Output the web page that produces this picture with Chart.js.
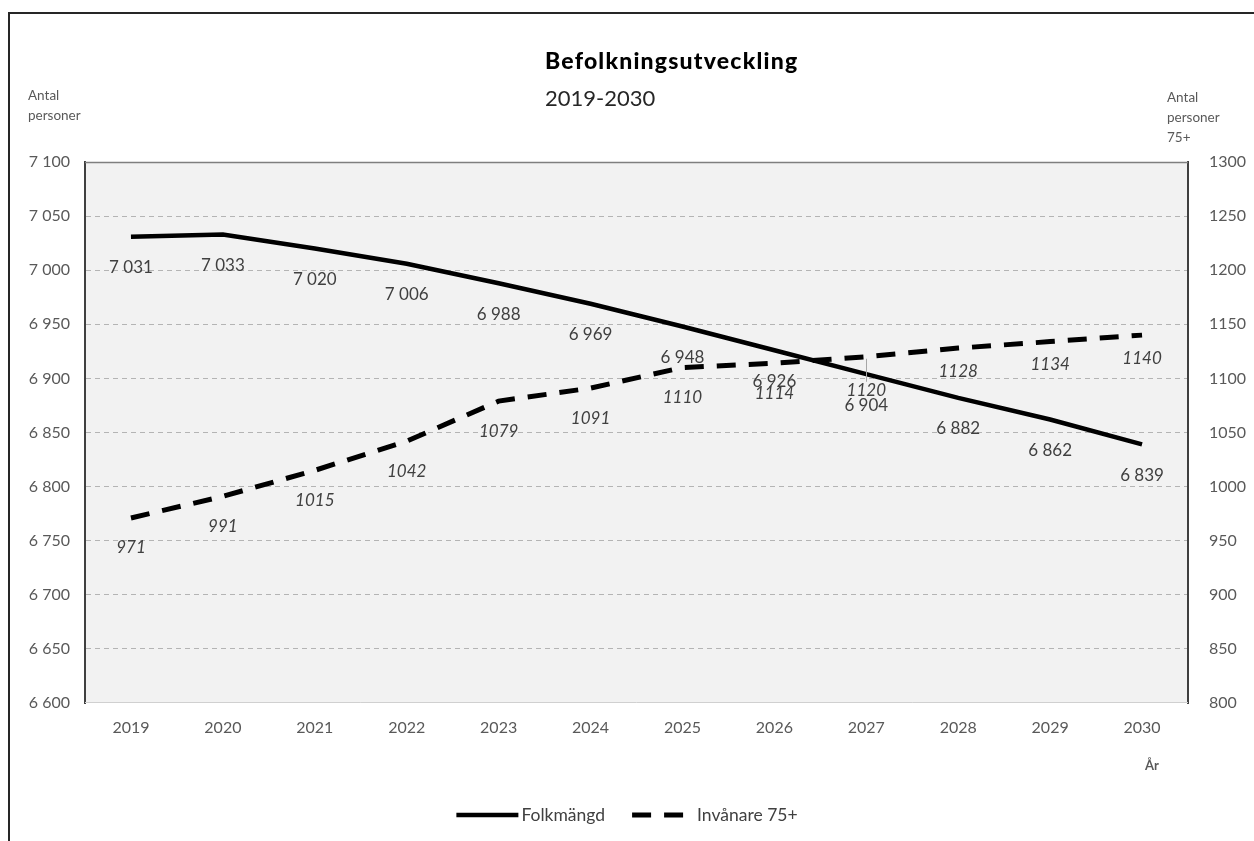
<!DOCTYPE html>
<html>
<head>
<meta charset="utf-8">
<script src="https://cdn.jsdelivr.net/npm/chart.js@4/dist/chart.umd.min.js"></script>
<style>
  html, body { margin: 0; padding: 0; background: #fff; }
  canvas { display: block; }
</style>
</head>
<body>
<canvas id="c" width="1254" height="841"></canvas>
<script>
// Population forecast data
const years = ['2019', '2020', '2021', '2022', '2023', '2024', '2025', '2026', '2027', '2028', '2029', '2030'];
const folkmangd = [7031, 7033, 7020, 7006, 6988, 6969, 6948, 6926, 6904, 6882, 6862, 6839];
const invanare75 = [971, 991, 1015, 1042, 1079, 1091, 1110, 1114, 1120, 1128, 1134, 1140];

// Axis ranges
const leftRange = [6600, 7100];
const rightRange = [800, 1300];
const tickStep = 50;

// Texts
const seriesNames = ['Folkmängd', 'Invånare 75+'];
const titleText = 'Befolkningsutveckling';
const subtitleText = '2019-2030';
const leftAxisTitle = ['Antal', 'personer'];
const rightAxisTitle = ['Antal', 'personer', '75+'];
const xAxisTitle = 'År';

const FONT = 'Lato, "Open Sans", sans-serif';
const TEXT = '#404040';
const AXIS_TEXT = '#595959';

// "7031" -> "7 031"
const spaced = v => String(v).replace(/\B(?=(\d{3})+(?!\d))/g, ' ');

// Page frame, plot background and plot edges
const framePlugin = {
  id: 'frame',
  beforeDraw(chart) {
    const { ctx, chartArea: a } = chart;
    ctx.save();
    ctx.fillStyle = '#fff';
    ctx.fillRect(0, 0, chart.width, chart.height);
    ctx.strokeStyle = '#262626';
    ctx.lineWidth = 2;
    ctx.beginPath();
    ctx.moveTo(9, chart.height);
    ctx.lineTo(9, 13);
    ctx.lineTo(chart.width, 13);
    ctx.stroke();
    ctx.fillStyle = '#f2f2f2';
    ctx.fillRect(a.left, a.top, a.right - a.left, a.bottom - a.top);
    ctx.restore();
  },
  beforeDatasetsDraw(chart) {
    const { ctx, chartArea: a } = chart;
    ctx.save();
    ctx.lineWidth = 1.5;
    ctx.strokeStyle = '#7f7f7f';
    ctx.beginPath();
    ctx.moveTo(a.left, a.top + 0.5);
    ctx.lineTo(a.right, a.top + 0.5);
    ctx.stroke();
    ctx.lineWidth = 1;
    ctx.strokeStyle = '#d0d0d0';
    ctx.beginPath();
    ctx.moveTo(a.left, a.bottom - 0.5);
    ctx.lineTo(a.right, a.bottom - 0.5);
    ctx.stroke();
    ctx.restore();
  }
};

// Value labels under each point
const valueLabels = {
  id: 'valueLabels',
  afterDatasetsDraw(chart) {
    const ctx = chart.ctx;
    chart.data.datasets.forEach((ds, i) => {
      const meta = chart.getDatasetMeta(i);
      const st = ds.valueLabel;
      ctx.save();
      ctx.font = st.font;
      ctx.fillStyle = TEXT;
      ctx.textAlign = 'center';
      ctx.textBaseline = 'middle';
      meta.data.forEach((pt, j) => {
        const off = st.leaderAt === j ? st.leaderOffset : (j >= st.nearFrom ? st.nearOffset : st.offset);
        const y = pt.y + off;
        if (st.leaderAt === j) {
          ctx.save();
          ctx.strokeStyle = '#a6a6a6';
          ctx.lineWidth = 1;
          ctx.beginPath();
          ctx.moveTo(Math.round(pt.x) + 0.5, pt.y + 2);
          ctx.lineTo(Math.round(pt.x) + 0.5, y - 9);
          ctx.stroke();
          ctx.restore();
        }
        ctx.fillText(st.format(ds.data[j]), pt.x, y);
      });
      ctx.restore();
    });
  }
};

// Titles, axis captions and legend
const textPlugin = {
  id: 'texts',
  afterDraw(chart) {
    const ctx = chart.ctx;
    ctx.save();
    ctx.textBaseline = 'middle';
    ctx.textAlign = 'left';
    ctx.fillStyle = '#000';
    ctx.font = '900 23px ' + FONT;
    ctx.letterSpacing = '1.2px';
    ctx.fillText(titleText, 545, 62);
    ctx.letterSpacing = '0px';
    ctx.fillStyle = '#262626';
    ctx.font = '22px ' + FONT;
    ctx.fillText(subtitleText, 545, 99);

    ctx.fillStyle = AXIS_TEXT;
    ctx.font = '13.5px ' + FONT;
    leftAxisTitle.forEach((t, i) => ctx.fillText(t, 28, 96 + i * 20));
    rightAxisTitle.forEach((t, i) => ctx.fillText(t, 1167, 98 + i * 20));
    ctx.font = 'bold 13px ' + FONT;
    ctx.fillText(xAxisTitle, 1145, 766);

    // legend
    ctx.font = '17.5px ' + FONT;
    const sample = 62, textGap = 3, itemGap = 27, ly = 815;
    const items = chart.data.datasets.map(ds => ({ ds, w: sample + textGap + ctx.measureText(ds.label).width }));
    const total = items.reduce((s, it) => s + it.w, 0) + itemGap * (items.length - 1);
    let x = chart.width / 2 - total / 2;
    items.forEach(({ ds, w }) => {
      ctx.save();
      ctx.strokeStyle = ds.borderColor;
      ctx.lineWidth = ds.borderWidth;
      ctx.setLineDash(ds.borderDash || []);
      ctx.beginPath();
      ctx.moveTo(x, ly);
      ctx.lineTo(x + sample, ly);
      ctx.stroke();
      ctx.restore();
      ctx.fillStyle = TEXT;
      ctx.fillText(ds.label, x + sample + textGap, ly);
      x += w + itemGap;
    });
    ctx.restore();
  }
};

new Chart(document.getElementById('c'), {
  type: 'line',
  data: {
    labels: years,
    datasets: [
      {
        label: seriesNames[0],
        data: folkmangd,
        yAxisID: 'y',
        borderColor: '#000',
        borderWidth: 4.5,
        pointRadius: 0,
        tension: 0,
        valueLabel: { font: '17px ' + FONT, offset: 31, format: spaced }
      },
      {
        label: seriesNames[1],
        data: invanare75,
        yAxisID: 'y1',
        borderColor: '#000',
        borderWidth: 5,
        borderDash: [19, 13],
        pointRadius: 0,
        tension: 0,
        valueLabel: {
          font: 'italic 17px ' + FONT, offset: 30, format: v => String(v),
          leaderAt: 8, leaderOffset: 34, nearFrom: 9, nearOffset: 23
        }
      }
    ]
  },
  options: {
    responsive: false,
    animation: false,
    devicePixelRatio: 1,
    layout: { padding: { top: 162, left: 0, right: 0, bottom: 0 } },
    plugins: { legend: { display: false }, title: { display: false }, tooltip: { enabled: false } },
    scales: {
      x: {
        offset: true,
        grid: { display: false, drawTicks: false },
        border: { display: false },
        ticks: { color: AXIS_TEXT, font: { family: FONT, size: 16 }, padding: 15, maxRotation: 0 },
        afterFit: s => { s.height = 138; }
      },
      y: {
        position: 'left',
        min: leftRange[0],
        max: leftRange[1],
        grid: {
          drawTicks: false,
          color: c => (c.tick && (c.tick.value === leftRange[0] || c.tick.value === leftRange[1])) ? 'rgba(0,0,0,0)' : '#b4b4b4',
          lineWidth: 1
        },
        border: { display: true, color: '#404040', width: 2, dash: [5, 4] },
        ticks: { stepSize: tickStep, color: AXIS_TEXT, font: { family: FONT, size: 16 }, padding: 15, callback: v => spaced(v) },
        afterFit: s => { s.width = 85; }
      },
      y1: {
        position: 'right',
        min: rightRange[0],
        max: rightRange[1],
        grid: { display: false, drawTicks: false },
        border: { display: true, color: '#404040', width: 2 },
        ticks: { stepSize: tickStep, color: AXIS_TEXT, font: { family: FONT, size: 16 }, padding: 21, callback: v => String(v) },
        afterFit: s => { s.width = 66; }
      }
    }
  },
  plugins: [framePlugin, valueLabels, textPlugin]
});
</script>
</body>
</html>
